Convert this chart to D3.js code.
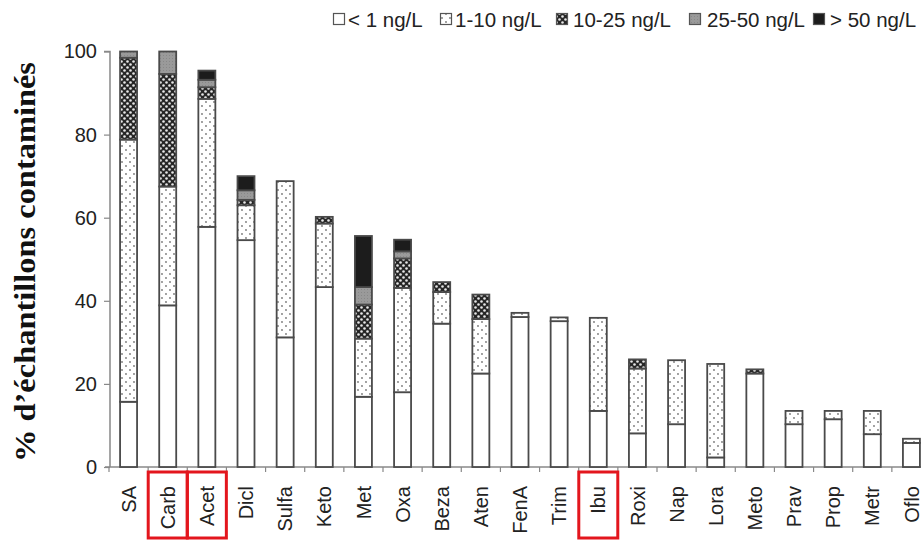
<!DOCTYPE html>
<html><head><meta charset="utf-8">
<script src="https://cdn.jsdelivr.net/npm/d3@7"></script>
<style>
html,body{margin:0;padding:0;background:#fff;}
svg{display:block;}
</style></head>
<body><svg id="c" width="921" height="546"></svg>
<script>
const categories = ["SA","Carb","Acet","Dicl","Sulfa","Keto","Met","Oxa","Beza","Aten","FenA","Trim","Ibu","Roxi","Nap","Lora","Meto","Prav","Prop","Metr","Oflo"];
const seriesNames = ["< 1 ng/L","1-10 ng/L","10-25 ng/L","25-50 ng/L","> 50 ng/L"];
const below1 =   [15.7,38.9,57.8,54.6,31.2,43.3,16.9,18.0,34.5,22.5,36.1,35.1,13.5,8.1,10.3,2.3,22.5,10.3,11.5,7.9,5.8];
const from1to10 =[63.1,28.6,30.8,8.4,37.6,15.3,14.0,25.1,7.6,13.1,1.0,0.9,22.4,15.6,15.4,22.5,0,3.2,2.0,5.6,1.0];
const from10to25=[19.7,27.1,2.8,1.3,0,1.6,8.2,7.1,2.4,5.9,0,0,0,2.2,0,0,1.0,0,0,0,0];
const from25to50=[1.5,5.4,1.8,2.3,0,0,4.2,1.7,0,0,0,0,0,0,0,0,0,0,0,0,0];
const above50 =  [0,0,2.2,3.4,0,0,12.3,2.8,0,0,0,0,0,0,0,0,0,0,0,0,0];
const yTicks = [0,20,40,60,80,100];
const highlighted = ["Carb","Acet","Ibu"];
const yTitle = "% d\u2019échantillons contaminés";

const svg = d3.select("#c");
const defs = svg.append("defs");
// pattern 1-10: white with grey dots
const p1 = defs.append("pattern").attr("id","p1").attr("patternUnits","userSpaceOnUse").attr("width",8).attr("height",8);
p1.append("rect").attr("width",8).attr("height",8).attr("fill","#fff");
p1.append("circle").attr("cx",2).attr("cy",2).attr("r",0.9).attr("fill","#777");
p1.append("circle").attr("cx",6).attr("cy",6).attr("r",0.9).attr("fill","#777");
// pattern 10-25: dark with white circles
const p2 = defs.append("pattern").attr("id","p2").attr("patternUnits","userSpaceOnUse").attr("width",6).attr("height",6);
p2.append("rect").attr("width",6).attr("height",6).attr("fill","#262626");
p2.append("circle").attr("cx",1.5).attr("cy",1.5).attr("r",1.3).attr("fill","#e8e8e8");
p2.append("circle").attr("cx",4.5).attr("cy",4.5).attr("r",1.3).attr("fill","#e8e8e8");
// pattern 25-50: grey texture
const p3 = defs.append("pattern").attr("id","p3").attr("patternUnits","userSpaceOnUse").attr("width",3).attr("height",3);
p3.append("rect").attr("width",3).attr("height",3).attr("fill","#9a9a9a");
p3.append("rect").attr("x",1).attr("y",1).attr("width",1).attr("height",1).attr("fill","#888");

const fills = ["#ffffff","url(#p1)","url(#p2)","url(#p3)","#1c1c1c"];

const x = d3.scaleBand().domain(categories).range([109, 931]).paddingInner(0.566).paddingOuter(0.283);
const y = d3.scaleLinear().domain([0,100]).range([467, 51.5]);

const table = categories.map((c,i)=>({cat:c, s0:below1[i], s1:from1to10[i], s2:from10to25[i], s3:from25to50[i], s4:above50[i]}));
const stack = d3.stack().keys(["s0","s1","s2","s3","s4"])(table);

// axes
const yAxis = d3.axisLeft(y).tickValues(yTicks).tickSize(6).tickPadding(7);
const gy = svg.append("g").attr("transform","translate(110,0)").call(yAxis);
gy.select(".domain").attr("stroke","#888").attr("stroke-width",1.5).attr("d","M-6,51.5H0V467");
gy.selectAll(".tick line").attr("stroke","#888").attr("stroke-width",1.2);
gy.selectAll(".tick text").attr("font-family","Liberation Sans, Arial, sans-serif").attr("font-size",20).attr("fill","#222");

// x axis line and boundary ticks
const step = x.step();
svg.append("line").attr("x1",105).attr("x2",921).attr("y1",y(0)).attr("y2",y(0)).attr("stroke","#888").attr("stroke-width",1.5);
const bounds = d3.range(categories.length+1).map(k=>x.range()[0]+k*step);
svg.append("g").selectAll("line").data(bounds).join("line")
  .attr("x1",d=>d).attr("x2",d=>d).attr("y1",y(0)).attr("y2",y(0)+5).attr("stroke","#888").attr("stroke-width",1.2);

// bars
const layers = svg.append("g").selectAll("g").data(stack).join("g").attr("fill",(d,i)=>fills[i]);
layers.selectAll("rect").data(d=>d.filter(v=>v[1]-v[0]>0)).join("rect")
  .attr("x",d=>x(d.data.cat)).attr("width",x.bandwidth())
  .attr("y",d=>y(d[1])).attr("height",d=>y(d[0])-y(d[1]))
  .attr("stroke","#4a4a4a").attr("stroke-width",1.8);

// x labels
svg.append("g").selectAll("text").data(categories).join("text")
  .attr("transform",d=>`translate(${x(d)+x.bandwidth()/2},486) rotate(-90)`)
  .attr("text-anchor","end").attr("dy","0.36em")
  .attr("font-family","Liberation Sans, Arial, sans-serif").attr("font-size",20).attr("fill","#222")
  .text(d=>d);

// red highlight boxes
svg.append("g").selectAll("rect").data(highlighted).join("rect")
  .attr("x",d=>x(d)+x.bandwidth()/2-19.5).attr("width",39)
  .attr("y",472).attr("height",66)
  .attr("fill","none").attr("stroke","#e3161d").attr("stroke-width",3);

// y title
svg.append("text").attr("transform","translate(35,262) rotate(-90)")
  .attr("text-anchor","middle").attr("font-family","Liberation Serif, Times New Roman, serif")
  .attr("font-weight","bold").attr("font-size",30).attr("fill","#111")
  .attr("textLength",400).attr("lengthAdjust","spacingAndGlyphs")
  .text(yTitle);

// legend
const legX = [333,440,556,689,813];
const legTx = [348,455,573,707,830];
const leg = svg.append("g");
seriesNames.forEach((n,i)=>{
  leg.append("rect").attr("x",legX[i]+0.5).attr("y",13.5).attr("width",11).attr("height",11)
    .attr("fill",fills[i]).attr("stroke","#555").attr("stroke-width",1.2);
  leg.append("text").attr("x",legTx[i]).attr("y",27)
    .attr("font-family","Liberation Sans, Arial, sans-serif").attr("font-size",20.5).attr("fill","#222")
    .text(n);
});
</script></body></html>
